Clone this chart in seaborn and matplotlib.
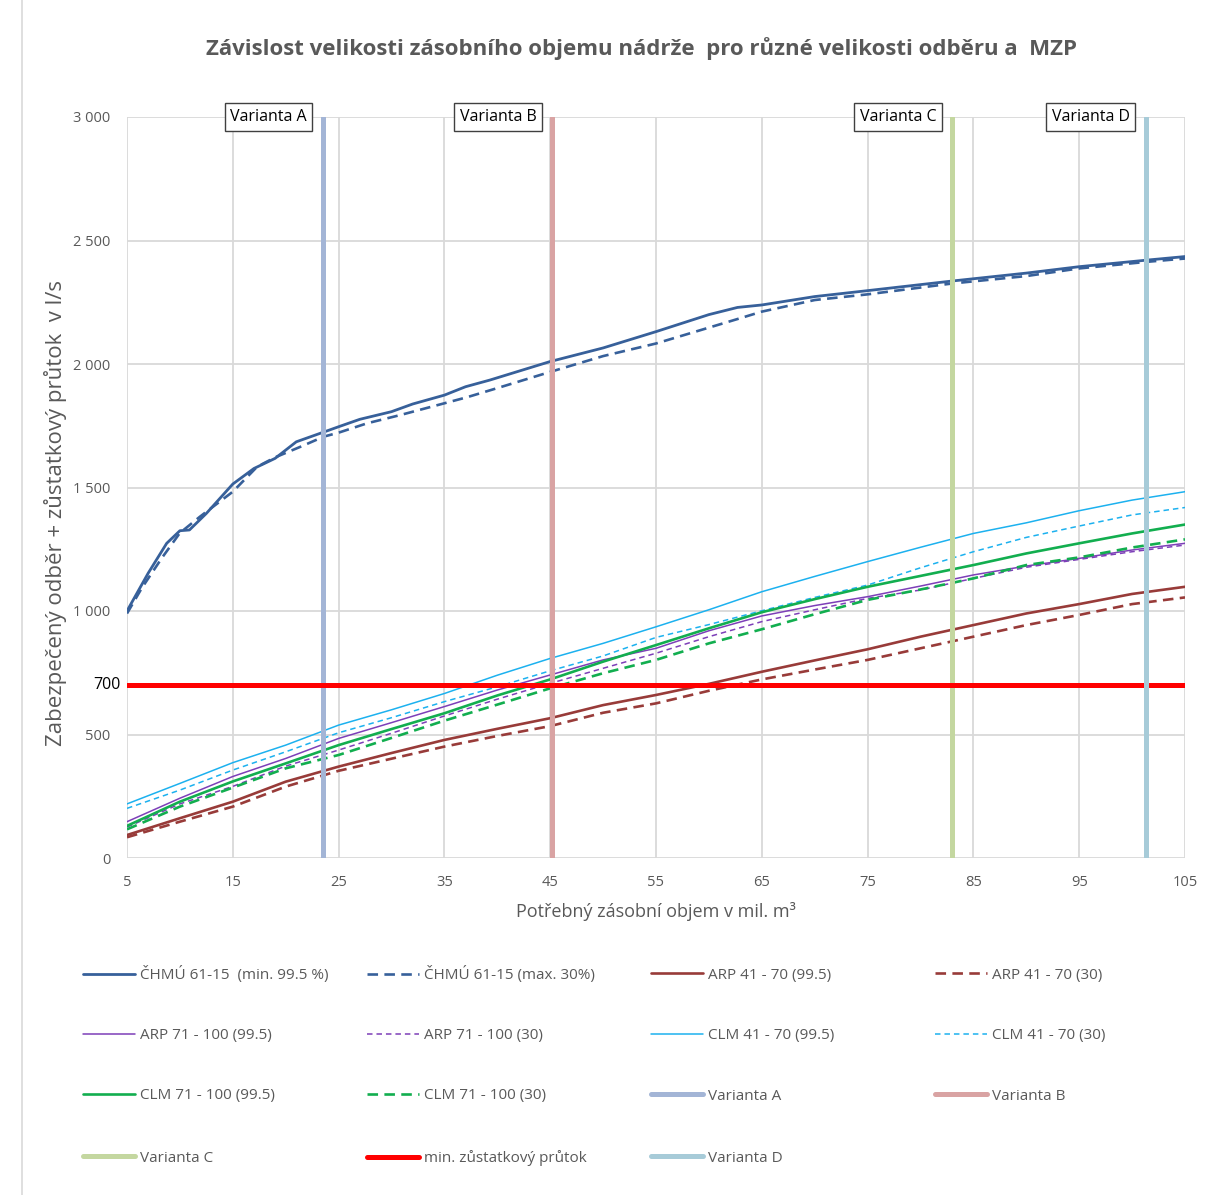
import matplotlib
matplotlib.use("Agg")
import matplotlib.pyplot as plt
import seaborn as sns
import pandas as pd
from matplotlib.lines import Line2D

sns.set_theme(style="white")
plt.rcParams["font.family"] = ["Open Sans", "DejaVu Sans"]

TEXT_GREY = "#595959"
GRID_GREY = "#d9d9d9"

# ---- data -------------------------------------------------------------
# storage volume (mil. m3) for the climate-scenario curves
volume = [5, 10, 15, 20, 25, 30, 35, 40, 45, 50, 55, 60, 65, 70, 75, 80, 85, 90, 95, 100, 105]

arp41_995 = [93, 161, 228, 309, 370, 425, 478, 523, 566, 619, 660, 705, 754, 800, 845, 896, 943, 990, 1028, 1069, 1098]
arp41_30 = [84, 147, 208, 289, 353, 402, 451, 494, 534, 588, 626, 677, 723, 763, 802, 849, 896, 943, 984, 1028, 1055]
arp71_995 = [147, 242, 330, 403, 484, 548, 613, 680, 741, 802, 849, 920, 980, 1022, 1058, 1101, 1146, 1182, 1213, 1247, 1274]
arp71_30 = [125, 219, 290, 372, 437, 505, 575, 643, 707, 768, 829, 896, 957, 1005, 1051, 1085, 1132, 1177, 1209, 1240, 1267]
clm41_995 = [219, 302, 386, 457, 538, 600, 666, 740, 808, 869, 936, 1005, 1078, 1140, 1200, 1258, 1314, 1357, 1406, 1449, 1483]
clm41_30 = [201, 275, 356, 430, 507, 568, 633, 693, 758, 818, 893, 945, 1001, 1055, 1105, 1175, 1240, 1298, 1344, 1389, 1419]
clm71_995 = [130, 228, 310, 383, 457, 522, 586, 658, 723, 795, 862, 930, 995, 1048, 1098, 1142, 1186, 1233, 1274, 1314, 1350]
clm71_30 = [116, 208, 285, 363, 417, 486, 556, 621, 687, 748, 802, 869, 926, 987, 1045, 1087, 1132, 1186, 1217, 1257, 1290]

# observed-series curves (ČHMÚ 1961-2015)
chmu_min_volume = [5, 7, 8.75, 10, 10.9, 12.5, 15, 17, 19, 21, 23.5, 25, 27, 30, 32, 35, 37, 39.3,
                   45, 50, 55, 60, 62.7, 65, 70, 75, 83, 90, 95, 101.5, 105]
chmu_min = [1000, 1153, 1274, 1325, 1328, 1395, 1514, 1577, 1618, 1685, 1723, 1746, 1776, 1807, 1838, 1874, 1908, 1935,
            2010, 2065, 2131, 2200, 2229, 2239, 2273, 2297, 2336, 2368, 2394, 2421, 2435]
chmu_max_volume = [5, 6.4, 8.3, 10, 11.9, 15, 17.3, 19, 21.4, 23.6, 25, 27.7, 30.8, 35, 37.1, 40.2,
                   45, 50, 55, 62.7, 65, 70, 75, 83, 90, 95, 101.5, 105]
chmu_max = [990, 1093, 1215, 1316, 1382, 1483, 1584, 1622, 1665, 1706, 1722, 1760, 1793, 1841, 1865, 1905,
            1968, 2032, 2083, 2182, 2212, 2259, 2282, 2326, 2356, 2387, 2414, 2427]

# design variants (storage volume) and minimum residual flow
variant_names = ["Varianta A", "Varianta B", "Varianta C", "Varianta D"]
variant_volume = [23.5, 45.2, 83.0, 101.3]
variant_colors = ["#a3b5d6", "#d9a3a3", "#c4d7a0", "#a7cbd8"]
mzp_flow = 700

x_ticks = [5, 15, 25, 35, 45, 55, 65, 75, 85, 95, 105]
y_ticks = [0, 500, 1000, 1500, 2000, 2500, 3000]
y_tick_labels = ["0", "500", "1 000", "1 500", "2 000", "2 500", "3 000"]

# ---- styles -----------------------------------------------------------
C_CHMU = "#37609a"
C_ARP41 = "#983b39"
C_ARP71 = "#7d3fb8"
C_CLM41 = "#1cb1ef"
C_CLM71 = "#12ae4f"
LONG = (0, (4.0, 2.4))
SHORT = (0, (3.6, 2.6))

series = [
    ("ČHMÚ 61-15  (min. 99.5 %)", chmu_min_volume, chmu_min, C_CHMU, 2.0, "-"),
    ("ČHMÚ 61-15 (max. 30%)", chmu_max_volume, chmu_max, C_CHMU, 1.9, LONG),
    ("ARP 41 - 70 (99.5)", volume, arp41_995, C_ARP41, 1.9, "-"),
    ("ARP 41 - 70 (30)", volume, arp41_30, C_ARP41, 1.9, LONG),
    ("ARP 71 - 100 (99.5)", volume, arp71_995, C_ARP71, 1.1, "-"),
    ("ARP 71 - 100 (30)", volume, arp71_30, C_ARP71, 1.1, SHORT),
    ("CLM 41 - 70 (99.5)", volume, clm41_995, C_CLM41, 1.1, "-"),
    ("CLM 41 - 70 (30)", volume, clm41_30, C_CLM41, 1.1, SHORT),
    ("CLM 71 - 100 (99.5)", volume, clm71_995, C_CLM71, 1.9, "-"),
    ("CLM 71 - 100 (30)", volume, clm71_30, C_CLM71, 1.9, LONG),
]

W, H = 1224, 1195
fig = plt.figure(figsize=(W / 100, H / 100), dpi=100)
fig.patch.set_facecolor("white")
ax = fig.add_axes([127 / W, 1 - 858 / H, (1185 - 127) / W, (858 - 117) / H])

handles = {}
for label, xs, ys, color, lw, ls in series:
    df = pd.DataFrame({"objem": xs, "prutok": ys})
    sns.lineplot(data=df, x="objem", y="prutok", ax=ax, color=color, lw=lw,
                 linestyle=ls, errorbar=None, legend=False, zorder=3)
    handles[label] = Line2D([], [], color=color, lw=lw, linestyle=ls)

# variant markers and minimum residual flow
for name, xv, col in zip(variant_names[:3], variant_volume[:3], variant_colors[:3]):
    ax.axvline(xv, color=col, lw=3.6, zorder=4)
    handles[name] = Line2D([], [], color=col, lw=3.6, solid_capstyle="round")
ax.axhline(mzp_flow, color="#ff0000", lw=3.6, zorder=5)
handles["min. zůstatkový průtok"] = Line2D([], [], color="#ff0000", lw=3.6, solid_capstyle="round")
ax.axvline(variant_volume[3], color=variant_colors[3], lw=3.6, zorder=6)
handles[variant_names[3]] = Line2D([], [], color=variant_colors[3], lw=3.6, solid_capstyle="round")

# callout labels at the top of each variant line
for name, xv in zip(variant_names, variant_volume):
    ax.annotate(name, xy=(xv, 3000), xytext=(-16, 0), textcoords="offset pixels",
                ha="right", va="center", fontsize=11.5, color="black", zorder=10,
                bbox=dict(boxstyle="square,pad=0.35", fc="white", ec="#404040", lw=1.0))

# label of the residual-flow line
ax.annotate(str(mzp_flow), xy=(5, mzp_flow), xytext=(-6, 0), textcoords="offset pixels",
            ha="right", va="center", fontsize=11.5, color="black", annotation_clip=False)

ax.set_xlim(5, 105)
ax.set_ylim(0, 3000)
ax.set_xticks(x_ticks)
ax.set_xticklabels([str(t) for t in x_ticks])
ax.set_yticks(y_ticks)
ax.set_yticklabels(y_tick_labels)
ax.tick_params(axis="both", length=0, labelsize=10.5, labelcolor=TEXT_GREY)
ax.tick_params(axis="x", pad=12)
ax.tick_params(axis="y", pad=12)
ax.grid(True, color=GRID_GREY, lw=1.3)
ax.set_axisbelow(True)
for sp in ax.spines.values():
    sp.set_visible(False)

ax.set_xlabel("Potřebný zásobní objem v mil. m³", fontsize=13, color=TEXT_GREY)
ax.set_ylabel("Zabezpečený odběr + zůstatkový průtok  v l/s", fontsize=16, color=TEXT_GREY)
ax.xaxis.set_label_coords(0.5, -0.059)
ax.yaxis.set_label_coords(-0.057, 0.466)

fig.text(642 / W, 1 - 49 / H,
         "Závislost velikosti zásobního objemu nádrže  pro různé velikosti odběru a  MZP",
         ha="center", va="center", fontsize=16, fontweight="bold", color=TEXT_GREY)

# legend: a 4 x 4 grid of entries, filled row by row
legend_rows = [
    ["ČHMÚ 61-15  (min. 99.5 %)", "ČHMÚ 61-15 (max. 30%)", "ARP 41 - 70 (99.5)", "ARP 41 - 70 (30)"],
    ["ARP 71 - 100 (99.5)", "ARP 71 - 100 (30)", "CLM 41 - 70 (99.5)", "CLM 41 - 70 (30)"],
    ["CLM 71 - 100 (99.5)", "CLM 71 - 100 (30)", "Varianta A", "Varianta B"],
    ["Varianta C", "min. zůstatkový průtok", "Varianta D"],
]
col_x = [83, 367, 651, 935]
row_y = [975, 1036, 1096, 1158]
for labels, cy in zip(legend_rows, row_y):
    for label, cx in zip(labels, col_x):
        leg = fig.legend([handles[label]], [label], loc="center left",
                         bbox_to_anchor=(cx / W, 1 - cy / H), frameon=False,
                         fontsize=11, handlelength=3.4, handletextpad=0.35,
                         borderpad=0, borderaxespad=0)
        for t in leg.get_texts():
            t.set_color(TEXT_GREY)

# chart-area frame edge
fig.add_artist(Line2D([22 / W, 22 / W], [0, 1], color=GRID_GREY, lw=1.2))

fig.savefig("out.png", dpi=100, facecolor="white")
